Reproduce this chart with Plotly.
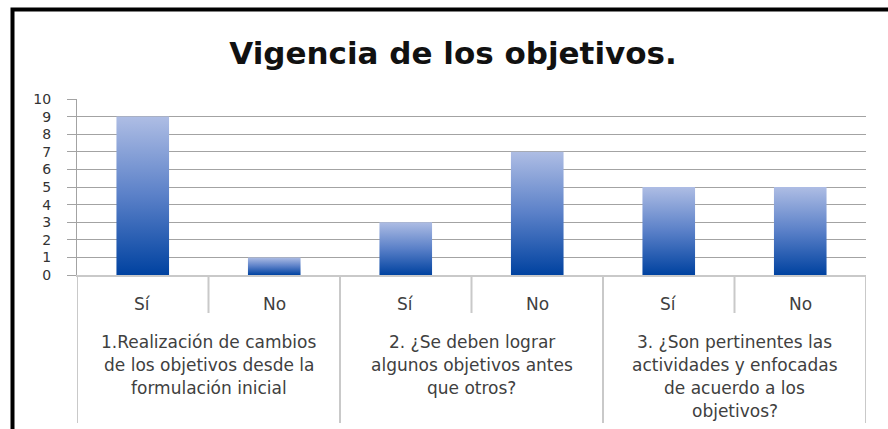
import plotly.graph_objects as go

# data
answers = ["Sí", "No"]
values = [9, 1, 3, 7, 5, 5]
questions = [
    ["1.Realización de cambios", "de los objetivos desde la", "formulación inicial"],
    ["2. ¿Se deben lograr", "algunos objetivos antes", "que otros?"],
    ["3. ¿Son pertinentes las", "actividades y enfocadas", "de acuerdo a los", "objetivos?"],
]
y_ticks = list(range(0, 11))

categories = [f"{qi + 1}-{a}" for qi in range(len(questions)) for a in answers]

# plot area in pixels
W, H = 888, 429
PL, PR, PT, PB = 77, 866, 99, 275


def py(p):
    # pixel row -> paper y
    return (PB - p) / (PB - PT)


def px(p):
    # pixel column -> paper x
    return (p - PL) / (PR - PL)


grid = "#a3a3a3"
light = "#c9c9c9"
label_font = dict(family="DejaVu Sans", size=17, color="#404040")

fig = go.Figure()
fig.add_trace(go.Bar(x=categories, y=values, width=0.4,
                     marker=dict(color="#4a74c0", line=dict(width=0)),
                     hoverinfo="x+y"))

fig.update_layout(
    width=W, height=H, autosize=False,
    margin=dict(l=PL, r=W - PR, t=PT, b=H - PB, pad=0),
    plot_bgcolor="white", paper_bgcolor="white",
    showlegend=False,
    title=dict(text="<b>Vigencia de los objetivos.</b>", x=px(453), xref="paper",
               xanchor="center", y=1 - 53 / H, yanchor="middle",
               font=dict(family="DejaVu Sans", size=31, color="#111111")),
)
fig.update_yaxes(range=[0, 10], tickvals=y_ticks, showgrid=True, gridcolor=grid, gridwidth=1.3,
                 zeroline=False, showline=True, linecolor=grid, linewidth=1.3,
                 ticks="outside", ticklen=9, tickcolor=grid, tickwidth=1.3,
                 ticklabelstandoff=13,
                 tickfont=dict(family="DejaVu Sans", size=14, color="#333333"))
fig.update_xaxes(range=[-0.5, len(categories) - 0.5], showticklabels=False, ticks="",
                 showgrid=False, zeroline=False, showline=True, linecolor=light, linewidth=2)

# category axis labels
for i, c in enumerate(categories):
    fig.add_annotation(x=c, y=py(304), xref="x", yref="paper", text=c.split("-", 1)[1],
                       showarrow=False, xanchor="center", yanchor="middle", font=label_font)

for qi, lines in enumerate(questions):
    for li, line in enumerate(lines):
        fig.add_annotation(x=2 * qi + 0.5, y=py(342 + 23 * li), xref="x", yref="paper",
                           text=line, showarrow=False, xanchor="center", yanchor="middle",
                           font=label_font)

# dividers: short ones between Sí / No, long ones between questions
for i in range(len(categories) + 1):
    long_line = i % 2 == 0
    fig.add_shape(type="line", xref="x", yref="paper", x0=i - 0.5, x1=i - 0.5,
                  y0=0, y1=py(423 if long_line else 313),
                  line=dict(color=light, width=2))

# outer frame (cut off on the right and bottom)
fig.add_shape(type="rect", xref="paper", yref="paper",
              x0=px(12.5), x1=px(W + 20), y0=py(9.5), y1=py(H + 20),
              line=dict(color="black", width=4), fillcolor="rgba(0,0,0,0)", layer="below")

gradient_js = """
document.body.style.margin = '0';
var gd = document.getElementById('{plot_id}');
var svg = gd.querySelector('svg.main-svg');
var defs = svg.querySelector('defs');
var ns = 'http://www.w3.org/2000/svg';
var g = document.createElementNS(ns, 'linearGradient');
g.setAttribute('id', 'barfade');
g.setAttribute('x1', '0'); g.setAttribute('y1', '0');
g.setAttribute('x2', '0'); g.setAttribute('y2', '1');
[['0', '#aebde4'], ['0.5', '#5a80c8'], ['1', '#0042a0']].forEach(function(s) {
    var st = document.createElementNS(ns, 'stop');
    st.setAttribute('offset', s[0]);
    st.setAttribute('stop-color', s[1]);
    g.appendChild(st);
});
defs.appendChild(g);
gd.querySelectorAll('.trace.bars .point path').forEach(function(p) {
    p.style.fill = 'url(#barfade)';
});
"""

fig.write_html("out.html", post_script=gradient_js, config={"displayModeBar": False})
